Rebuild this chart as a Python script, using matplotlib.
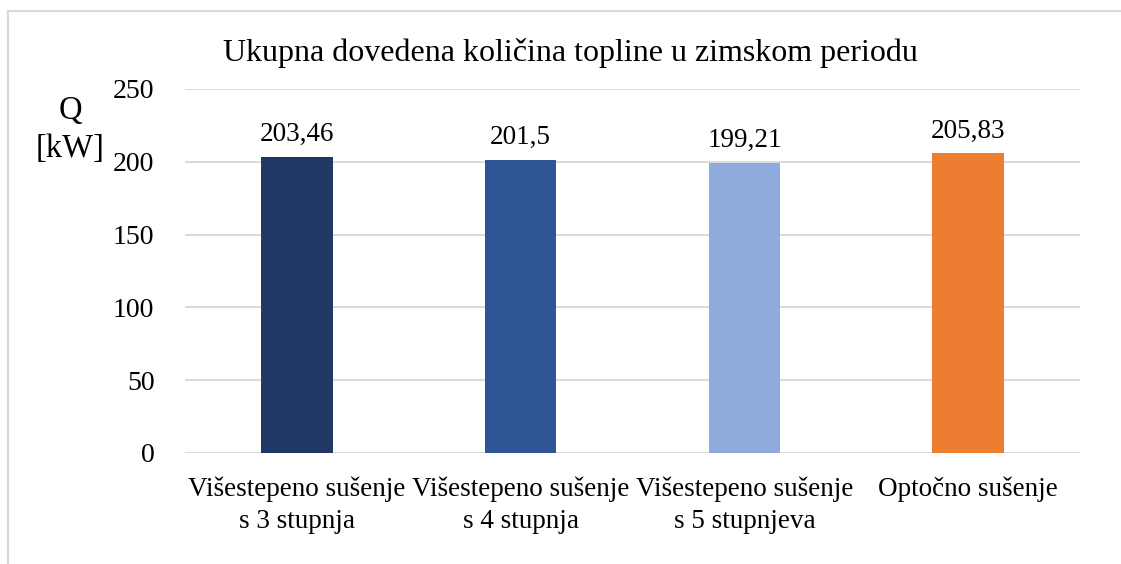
import numpy as np
import matplotlib.pyplot as plt
from matplotlib.lines import Line2D

# data
categories = ["Višestepeno sušenje\ns 3 stupnja",
              "Višestepeno sušenje\ns 4 stupnja",
              "Višestepeno sušenje\ns 5 stupnjeva",
              "Optočno sušenje"]
values = [203.46, 201.5, 199.21, 205.83]
value_labels = ["203,46", "201,5", "199,21", "205,83"]
bar_colors = ["#203864", "#2f5597", "#8faadc", "#ed7d31"]
yticks = [0, 50, 100, 150, 200, 250]

plt.rcParams["font.family"] = ["Liberation Serif", "DejaVu Serif"]
plt.rcParams["font.size"] = 19

W, H = 1121, 564
fig = plt.figure(figsize=(W / 100, H / 100), dpi=100)

# chart frame (only top/left edge visible in the original)
fig.add_artist(Line2D([8 / W, 1.0], [1 - 11 / H, 1 - 11 / H], transform=fig.transFigure,
                      color="#d9d9d9", linewidth=1.5))
fig.add_artist(Line2D([8 / W, 8 / W], [0.0, 1 - 11 / H], transform=fig.transFigure,
                      color="#d9d9d9", linewidth=1.5))

ax = fig.add_axes([185 / W, 1 - 453 / H, (1080 - 185) / W, (453 - 89) / H])
x = np.arange(len(categories))
bars = ax.bar(x, values, width=0.32, color=bar_colors, zorder=3)

for b, lab in zip(bars, value_labels):
    ax.annotate(lab, (b.get_x() + b.get_width() / 2, b.get_height()),
                xytext=(0, 7), textcoords="offset points",
                ha="center", va="bottom", fontsize=19.5, color="#000000")

ax.set_xlim(-0.5, len(categories) - 0.5)
ax.set_ylim(0, 250)
ax.set_yticks(yticks)
ax.set_yticklabels([str(t) for t in yticks], fontsize=20)
ax.set_xticks(x)
ax.set_xticklabels(categories, fontsize=19.5, linespacing=1.35)
ax.tick_params(axis="both", length=0)
ax.tick_params(axis="y", pad=22)
ax.tick_params(axis="x", pad=17)
ax.grid(axis="y", color="#d9d9d9", linewidth=1.4, zorder=0)
for s in ax.spines.values():
    s.set_visible(False)

fig.text(570 / W, 1 - 53 / H, "Ukupna dovedena količina topline u zimskom periodu",
         ha="center", va="center", fontsize=23)
fig.text(70 / W, 1 - 130 / H, "Q\n[kW]", ha="center", va="center",
         fontsize=23.5, linespacing=1.3)

fig.savefig("out.png", dpi=100, facecolor="white")
